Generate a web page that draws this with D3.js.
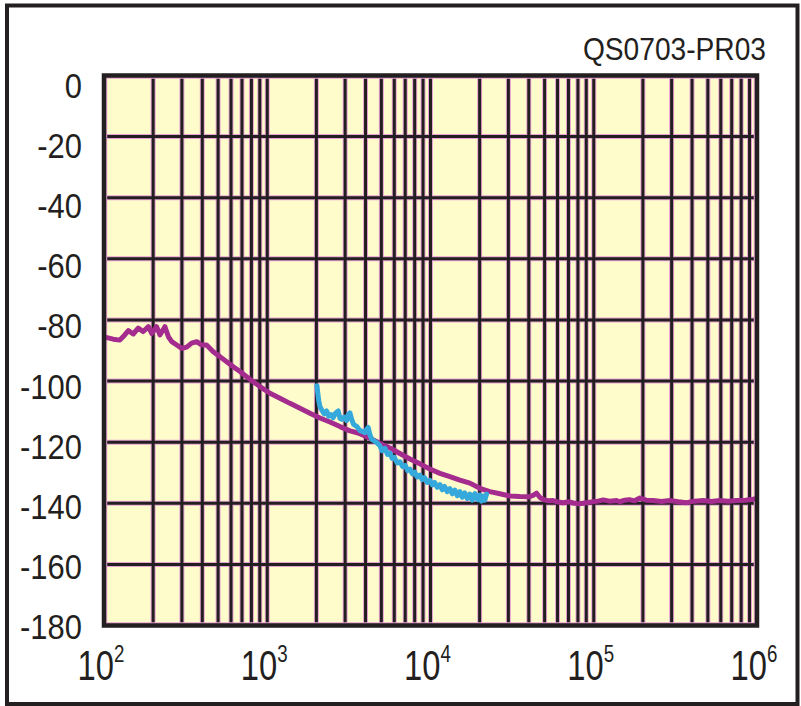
<!DOCTYPE html>
<html>
<head>
<meta charset="utf-8">
<script src="https://cdn.jsdelivr.net/npm/d3@7"></script>
<style>
  html, body { margin: 0; padding: 0; background: #ffffff; }
  svg { display: block; }
  text { font-family: "Liberation Sans", Arial, Helvetica, sans-serif; fill: #231f20; }
</style>
</head>
<body>
<script>
// Chart label and axis ticks
const chartCode = "QS0703-PR03";
const xTickExponents = [2, 3, 4, 5, 6];
const yTickValues = [0, -20, -40, -60, -80, -100, -120, -140, -160, -180];

// Magenta trace: frequency (Hz) and level (dB)
const magentaFreq = [101, 114, 125, 134, 141, 151, 162, 174, 187, 196, 210, 220, 236, 248, 260, 279, 299, 321, 344, 370,
  396, 425, 467, 513, 564, 619, 681, 748, 821, 902, 1039, 1196, 1377, 1586, 1826, 2102, 2421, 2788, 3210, 3600,
  4061, 4600, 5134, 5642, 6497, 7480, 8611, 9915, 11417, 13146, 15137, 17430, 20070, 23100, 26600, 30630, 35260, 40000, 42500, 44640,
  47000, 49000, 52500, 56400, 60500, 64950, 70000, 75000, 80500, 86100, 92500, 99100, 106000, 114200, 125000, 137900, 144500, 155000, 165000, 178000,
  191600, 210000, 231300, 260000, 292400, 330000, 370000, 415000, 467700, 525000, 591600, 665000, 751600, 850000, 946000, 1000000];
const magentaDb = [-85.6, -86.3, -86.6, -84.9, -83.5, -84.6, -82.7, -83.8, -82.2, -84.4, -82.2, -84.9, -82.2, -85.5, -87.1, -88.2, -89.3, -88.9, -87.6, -87.1,
  -88.2, -88.2, -90.4, -92.0, -93.7, -95.3, -96.9, -98.6, -100.2, -101.8, -104.0, -105.6, -107.3, -108.9, -110.5, -112.1, -113.4, -114.9, -116.3, -117.0,
  -118.2, -119.6, -120.9, -121.9, -123.7, -125.5, -127.1, -128.8, -130.2, -131.3, -132.4, -133.4, -135.1, -136.2, -136.9, -137.6, -137.8, -137.9, -137.4, -136.7,
  -138.2, -138.7, -139.2, -139.1, -139.6, -139.8, -139.5, -139.9, -140.2, -140.0, -139.7, -139.5, -139.3, -138.9, -139.3, -139.1, -139.5, -139.0, -138.8, -139.2,
  -138.3, -139.0, -139.1, -139.4, -139.1, -139.5, -139.8, -139.3, -139.1, -139.4, -139.1, -139.3, -139.1, -139.0, -138.7, -138.4];

// Blue trace: frequency (Hz) and level (dB)
const blueFreq = [2016, 2040, 2070, 2102, 2160, 2230, 2311, 2380, 2460, 2535, 2620, 2722, 2790, 2856, 2960, 3064, 3134, 3210, 3287, 3380,
  3528, 3696, 3830, 3964, 4060, 4155, 4250, 4360, 4677, 4899, 5050, 5260, 5450, 5642, 5820, 6000, 6250, 6497, 6750, 7000,
  7250, 7480, 7750, 8000, 8300, 8611, 8900, 9200, 9550, 9915, 10250, 10600, 11000, 11417, 11800, 12200, 12650, 13146, 13600, 14100,
  14600, 15137, 15650, 16200, 16800, 17430, 18000, 18700, 19400, 20070, 20500, 21000, 21500, 22060];
const blueDb = [-101.5, -104.0, -106.5, -108.3, -109.5, -110.7, -109.8, -111.5, -111.0, -112.0, -110.5, -109.8, -112.2, -112.5, -111.8, -112.9, -111.0, -110.4, -112.5, -114.2,
  -114.8, -116.2, -116.5, -116.9, -115.8, -115.2, -117.5, -119.0, -120.1, -121.2, -122.8, -122.0, -124.0, -123.6, -125.3, -125.0, -126.8, -126.4, -128.0, -127.6,
  -129.3, -128.8, -130.4, -129.8, -131.4, -130.8, -132.3, -131.6, -133.2, -132.5, -134.0, -133.2, -134.8, -133.9, -135.6, -134.5, -136.2, -135.2, -136.9, -135.7,
  -137.5, -136.2, -138.0, -136.6, -138.4, -137.0, -139.0, -136.8, -138.8, -137.3, -139.3, -137.6, -139.0, -137.0];

const W = 801, H = 706;
const ink = "#231f20";
const plotFill = "#fffccb";
const fringe = "#e7a3d3";
const magentaColor = "#a42c8e";
const blueColor = "#36a9dc";

const x = d3.scaleLog().domain([1e2, 1e6]).range([104, 757]);
const y = d3.scaleLinear().domain([0, -180]).range([75.5, 625.5]);
// vertical centres of the y-axis labels
const yLabel = d3.scaleLinear().domain([0, -180]).range([85, 626]);

const svg = d3.select("body").append("svg").attr("width", W).attr("height", H);

// Outer frame of the figure
svg.append("rect")
  .attr("x", 7).attr("y", 5.5).attr("width", 790.5).attr("height", 698.5)
  .attr("fill", "#ffffff").attr("stroke", ink).attr("stroke-width", 4);

// Plot background
const [x0, x1] = x.range();
const [y0, y1] = y.range();
svg.append("rect")
  .attr("x", x0).attr("y", y0).attr("width", x1 - x0).attr("height", y1 - y0)
  .attr("fill", plotFill);

svg.append("clipPath").attr("id", "plot-clip")
  .append("rect").attr("x", x0).attr("y", y0).attr("width", x1 - x0).attr("height", y1 - y0);

const grid = svg.append("g").attr("clip-path", "url(#plot-clip)");
const vTicks = x.ticks().filter(v => v > 1e2 && v < 1e6);
const hTicks = yTickValues.filter(v => v < 0 && v > -180);

// Grid lines: a faint pink fringe under each dark rule
[[fringe, 5], [ink, 3]].forEach(([col, w]) => {
  grid.selectAll(null).data(vTicks).enter().append("line")
    .attr("x1", d => x(d)).attr("x2", d => x(d))
    .attr("y1", y0).attr("y2", y1)
    .attr("stroke", col).attr("stroke-width", w);
  grid.selectAll(null).data(hTicks).enter().append("line")
    .attr("x1", x0).attr("x2", x1)
    .attr("y1", d => y(d)).attr("y2", d => y(d))
    .attr("stroke", col).attr("stroke-width", w);
});
// fringe just inside the plot frame
grid.append("rect")
  .attr("x", x0).attr("y", y0).attr("width", x1 - x0).attr("height", y1 - y0)
  .attr("fill", "none").attr("stroke", fringe).attr("stroke-width", 6.5);

// Traces
const line = d3.line().x(d => x(d[0])).y(d => y(d[1]));
const curves = svg.append("g").attr("clip-path", "url(#plot-clip)")
  .attr("fill", "none").attr("stroke-linejoin", "round").attr("stroke-linecap", "round");

curves.append("path")
  .datum(magentaFreq.map((f, i) => [f, magentaDb[i]]))
  .attr("d", line).attr("stroke", magentaColor).attr("stroke-width", 5);

curves.append("path")
  .datum(blueFreq.map((f, i) => [f, blueDb[i]]))
  .attr("d", line).attr("stroke", blueColor).attr("stroke-width", 5);

// Plot frame
svg.append("rect")
  .attr("x", x0).attr("y", y0).attr("width", x1 - x0).attr("height", y1 - y0)
  .attr("fill", "none").attr("stroke", ink).attr("stroke-width", 4.5);

// Y axis labels
svg.append("g").selectAll("text").data(yTickValues).enter().append("text")
  .attr("transform", d => `translate(82,${yLabel(d) + 13}) scale(0.86,1)`)
  .attr("text-anchor", "end")
  .attr("font-size", 36)
  .text(d => d);

// X axis labels (powers of ten)
const xl = svg.append("g").selectAll("g").data(xTickExponents).enter().append("g")
  .attr("transform", d => `translate(${x(Math.pow(10, d)) - 3},680) scale(0.78,1)`);
xl.append("text")
  .attr("text-anchor", "middle")
  .attr("font-size", 42)
  .text("10")
  .append("tspan")
  .attr("dy", -18)
  .attr("font-size", 24)
  .text(d => d);

// Chart code, top right
svg.append("text")
  .attr("transform", "translate(766,60) scale(0.88,1)")
  .attr("text-anchor", "end")
  .attr("font-size", 32)
  .text(chartCode);
</script>
</body>
</html>
